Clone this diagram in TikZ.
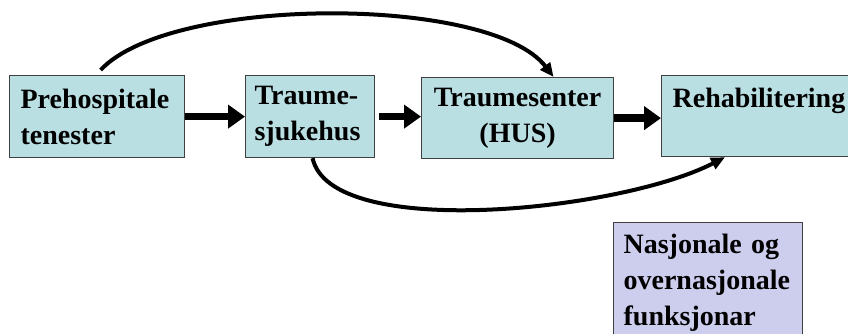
\documentclass[tikz,border=0pt]{standalone}
\usepackage{fontspec}
\setmainfont{Liberation Serif}
\usetikzlibrary{arrows.meta}
\definecolor{boxfill}{HTML}{B9DFE3}
\definecolor{natfill}{HTML}{CDCDEE}
\definecolor{boxline}{HTML}{404040}
\begin{document}
\begin{tikzpicture}[x=1pt,y=-1pt,
  box/.style={draw=boxline, line width=1.2pt, fill=boxfill, inner sep=0pt,
    anchor=north west, font=\fontsize{28}{36}\selectfont\bfseries},
  flow/.style={line width=7.5pt, -{Triangle[length=17pt,width=23pt]}},
  bypass/.style={line width=4pt, -{Triangle[length=14pt,width=12pt]}}]
\clip (0,0) rectangle (848,333);
% chain of care
\node[box, minimum width=175pt, minimum height=82pt, text width=153pt, align=left]
  (pre) at (9,75) {Prehospitale\\tenester};
\node[box, minimum width=129pt, minimum height=82pt, text width=111pt, align=left]
  (trs) at (245,75) {Traume-\\sjukehus};
\node[box, minimum width=192pt, minimum height=81pt, text width=180pt, align=center]
  (ctr) at (421,77) {Traumesenter\\(HUS)};
\node[box, minimum width=240pt, minimum height=81pt, text width=218pt, align=left]
  (reh) at (661,75) {Rehabilitering\\\mbox{}};
\node[box, fill=natfill, minimum width=189pt, minimum height=121pt, text width=169pt, align=left]
  (nat) at (613,222) {Nasjonale og\\overnasjonale\\funksjonar};
% main flow
\draw[flow] (pre.east) -- (pre.east -| trs.west);
\draw[flow, shorten <=4pt] (trs.east) -- (trs.east -| ctr.west);
\draw[flow] (ctr.east) -- (ctr.east -| reh.west);
% bypasses
\draw[bypass] ([shift={(3.5,-5)}]pre.north) .. controls +(70,-75) and +(-63,-82) .. ([xshift=36pt]ctr.north);
\draw[bypass] ([xshift=2.5pt]trs.south) .. controls +(18,83) and +(-105,54) .. ([xshift=64pt]reh.south west);
\end{tikzpicture}
\end{document}
